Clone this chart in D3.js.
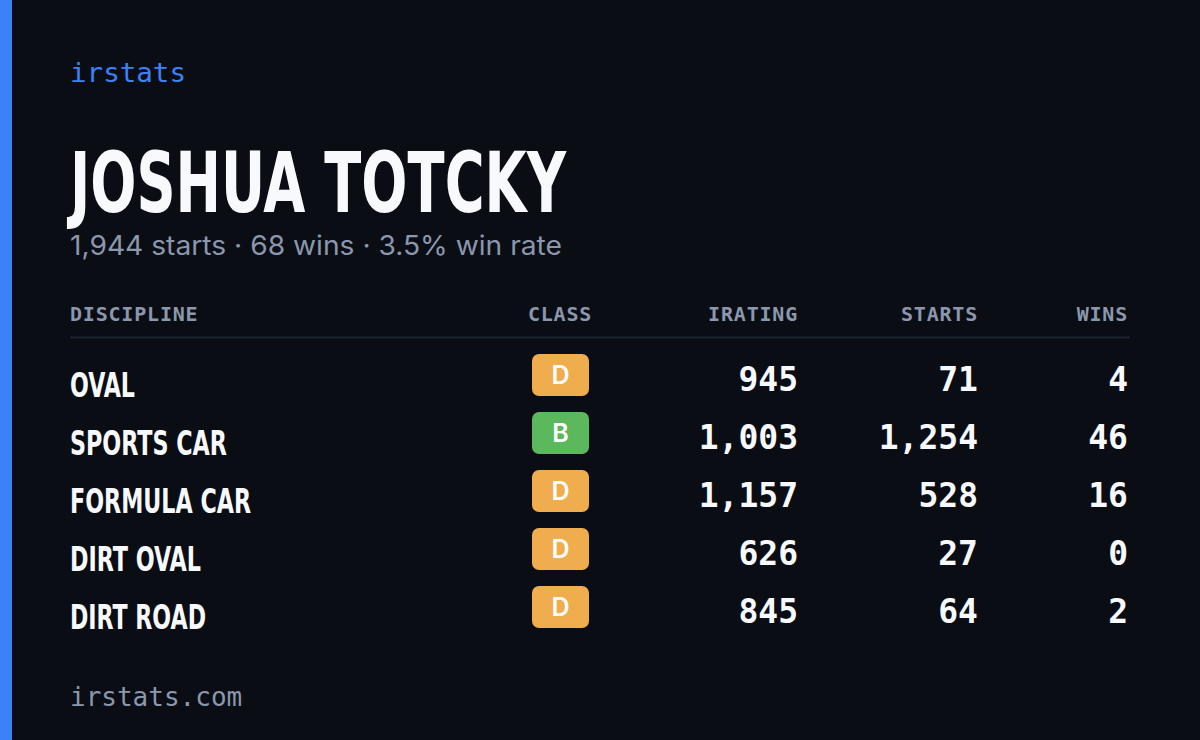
<!DOCTYPE html>
<html><head><meta charset="utf-8">
<script src="https://cdn.jsdelivr.net/npm/d3@7"></script>
<style>body{margin:0;background:#0a0d14}svg{display:block}</style>
</head><body>
<svg id="c" width="1200" height="740"></svg>
<script>
const disciplines = ["OVAL","SPORTS CAR","FORMULA CAR","DIRT OVAL","DIRT ROAD"];
const classes = ["D","B","D","D","D"];
const iratings = [945,1003,1157,626,845];
const starts = [71,1254,528,27,64];
const wins = [4,46,16,0,2];
const headers = ["DISCIPLINE","CLASS","IRATING","STARTS","WINS"];
const labelWidths = [65,157,181,131,136];

const svg = d3.select("#c");
const fmt = d3.format(",");
const mono = "'DejaVu Sans Mono', monospace";
const cond = "'DejaVu Sans Condensed','Liberation Sans Narrow',sans-serif";
const muted = "#8a97ad";
svg.append("rect").attr("width",1200).attr("height",740).attr("fill","#0a0d14");
svg.append("rect").attr("width",12).attr("height",740).attr("fill","#3b82f6");

svg.append("text").attr("x",70).attr("y",82).attr("fill","#3b82f6").attr("font-family",mono).attr("font-size",27)
  .attr("textLength",116).attr("lengthAdjust","spacingAndGlyphs").text("irstats");
svg.append("text").attr("x",70).attr("y",212).attr("fill","#f8f9fc").attr("font-family",cond).attr("font-weight","bold").attr("font-size",84)
  .attr("textLength",496).attr("lengthAdjust","spacingAndGlyphs").text("JOSHUA TOTCKY");
const totS = d3.sum(starts), totW = d3.sum(wins);
svg.append("text").attr("x",70).attr("y",255).attr("fill",muted).attr("font-family","Inter, sans-serif").attr("font-size",27)
  .attr("textLength",492).attr("lengthAdjust","spacingAndGlyphs")
  .text(`${fmt(totS)} starts · ${totW} wins · ${(totW/totS*100).toFixed(1)}% win rate`);

const hx = [70,560,798,978,1128], ha = ["start","middle","end","end","end"];
headers.forEach((h,i)=>svg.append("text").attr("x",hx[i]).attr("y",321).attr("text-anchor",ha[i]).attr("fill",muted)
  .attr("font-family",mono).attr("font-weight",600).attr("font-size",20).attr("letter-spacing",0.8).text(h));
svg.append("line").attr("x1",70).attr("x2",1130).attr("y1",337.5).attr("y2",337.5).attr("stroke","#1c2230").attr("stroke-width",2);

const y = d3.scalePoint().domain(disciplines).range([0,232]);
const classColor = {D:"#f0ad4e",B:"#5cb85c",C:"#f5d34a",A:"#4a90e2"};
disciplines.forEach((d,i)=>{
  const y0 = 354 + y(d);
  svg.append("text").attr("x",70).attr("y",y0+43).attr("fill","#f8f9fc").attr("font-family",cond).attr("font-weight","bold")
    .attr("font-size",33).attr("textLength",labelWidths[i]).attr("lengthAdjust","spacingAndGlyphs").text(d);
  svg.append("rect").attr("x",532).attr("y",y0).attr("width",57).attr("height",42).attr("rx",7).attr("fill",classColor[classes[i]]);
  svg.append("text").attr("x",560.5).attr("y",y0+30).attr("text-anchor","middle").attr("fill","#fff").attr("font-family","Inter, sans-serif")
    .attr("font-weight",600).attr("font-size",25).text(classes[i]);
  [iratings[i],starts[i],wins[i]].forEach((v,j)=>svg.append("text").attr("x",hx[j+2]).attr("y",y0+37).attr("text-anchor","end")
    .attr("fill","#f8f9fc").attr("font-family",mono).attr("font-weight","bold").attr("font-size",33).text(fmt(v)));
});
svg.append("text").attr("x",70).attr("y",706).attr("fill",muted).attr("font-family",mono).attr("font-size",26).text("irstats.com");
</script></body></html>
